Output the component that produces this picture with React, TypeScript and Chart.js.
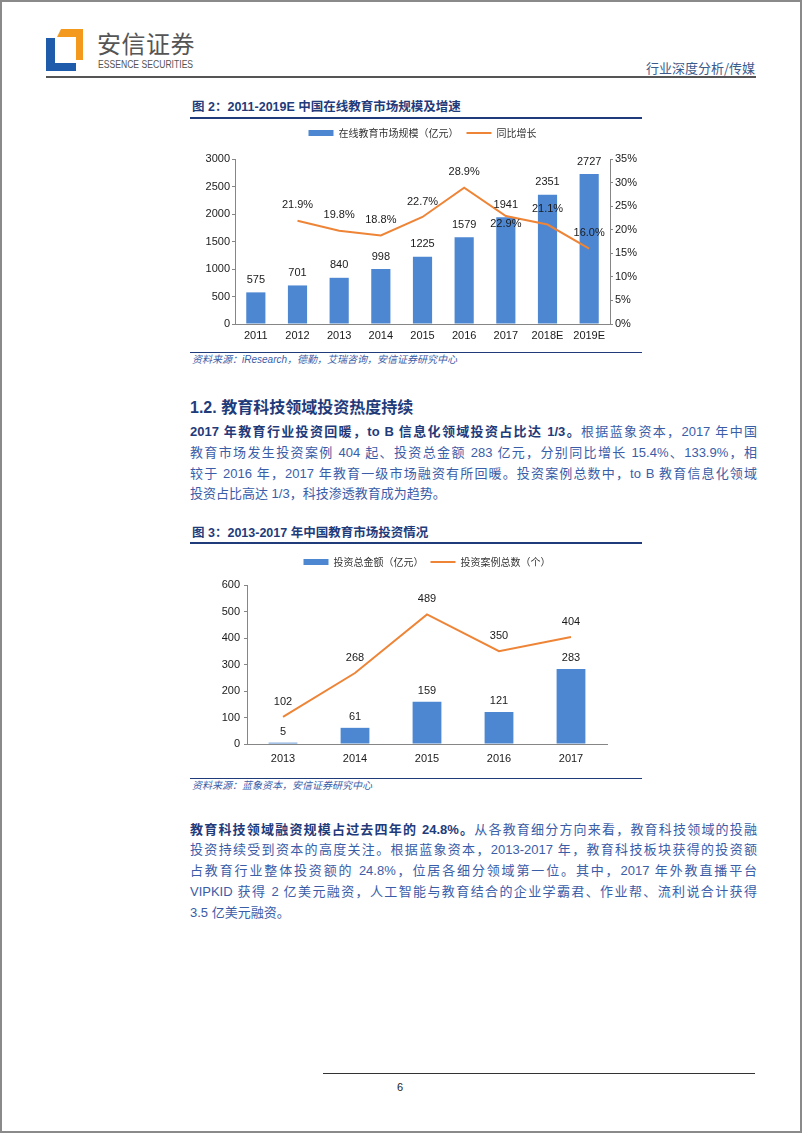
import React, { useEffect, useRef } from "react";
import { Chart, registerables } from "chart.js";

Chart.register(...registerables);

// ---------- Data: Figure 2 ----------
const years1 = ["2011", "2012", "2013", "2014", "2015", "2016", "2017", "2018E", "2019E"];
const marketSize = [575, 701, 840, 998, 1225, 1579, 1941, 2351, 2727];
const growthPct = [null, 21.9, 19.8, 18.8, 22.7, 28.9, 22.9, 21.1, 16.0];
const growthLabelBelow = [false, false, false, false, false, false, true, false, false];
const series1Names = ["在线教育市场规模（亿元）", "同比增长"];

// ---------- Data: Figure 3 ----------
const years2 = ["2013", "2014", "2015", "2016", "2017"];
const investAmount = [5, 61, 159, 121, 283];
const investCases = [102, 268, 489, 350, 404];
const series2Names = ["投资总金额（亿元）", "投资案例总数（个）"];

const BLUE = "#4D87D1";
const ORANGE = "#EE8436";
const AXIS = "#868686";
const NAVY = "#1F3B7A";
const TEXTBLUE = "#3A5DA8";
const FONT_NUM = '"Liberation Sans", Arial, sans-serif';
const FONT_CJK = '"Noto Sans CJK SC", sans-serif';
const FONT_BODY = '"Liberation Sans", "Noto Sans CJK SC", sans-serif';

const valueLabels = {
  id: "valueLabels",
  afterDatasetsDraw(chart: any) {
    const ctx = chart.ctx;
    chart.data.datasets.forEach((ds: any, di: number) => {
      const meta = chart.getDatasetMeta(di);
      meta.data.forEach((el: any, i: number) => {
        const v = ds.data[i];
        if (v == null) return;
        const text = ds.labelFormat ? ds.labelFormat(v) : String(v);
        const below = ds.labelBelow && ds.labelBelow[i];
        const dy = below ? ds.labelBelowOffset : -ds.labelOffset;
        ctx.save();
        ctx.font = `11px ${FONT_NUM}`;
        ctx.fillStyle = "#1a1a1a";
        ctx.textAlign = "center";
        ctx.textBaseline = "middle";
        ctx.fillText(text, el.x, el.y + dy);
        ctx.restore();
      });
    });
  },
};

const legendGap = (extra: number) => ({
  id: "legendGap",
  beforeInit(chart: any) {
    const lg = chart.legend;
    if (!lg) return;
    const orig = lg.fit;
    lg.fit = function () {
      orig.call(this);
      this.height += extra;
    };
  },
});

function legendOpts(pad: number) {
  return {
    display: true,
    position: "top" as const,
    fullSize: false,
    labels: {
      usePointStyle: true,
      pointStyleWidth: 25,
      boxWidth: 25,
      boxHeight: 6,
      padding: pad,
      color: "#333",
      font: { family: FONT_CJK, size: 10 },
      sort: (a: any, b: any) => a.datasetIndex - b.datasetIndex,
    },
  };
}

const plainTick = (v: any) => String(v);

function Chart1() {
  const ref = useRef<HTMLCanvasElement>(null);
  useEffect(() => {
    const chart = new Chart(ref.current as HTMLCanvasElement, {
      type: "bar",
      data: {
        labels: years1,
        datasets: [
          {
            type: "bar",
            label: series1Names[0],
            data: marketSize,
            backgroundColor: BLUE,
            yAxisID: "y",
            order: 1,
            categoryPercentage: 1,
            barPercentage: 0.46,
            pointStyle: "rect",
            labelOffset: 12.5,
          } as any,
          {
            type: "line",
            label: series1Names[1],
            data: growthPct,
            borderColor: ORANGE,
            backgroundColor: ORANGE,
            borderWidth: 2,
            pointBorderWidth: 2,
            pointRadius: 0,
            pointHoverRadius: 0,
            yAxisID: "y1",
            order: 0,
            pointStyle: "line",
            labelOffset: 15.5,
            labelBelow: growthLabelBelow,
            labelBelowOffset: 8,
            labelFormat: (v: number) => v.toFixed(1) + "%",
          } as any,
        ],
      },
      options: {
        responsive: false,
        animation: false,
        layout: { padding: 0 },
        plugins: {
          legend: legendOpts(8),
          tooltip: { enabled: false },
        },
        scales: {
          x: {
            grid: { display: false, drawTicks: false },
            border: { color: AXIS },
            ticks: { font: { family: FONT_NUM, size: 11 }, color: "#1a1a1a", padding: 5, maxRotation: 0, autoSkip: false },
            afterFit(s: any) { s.height = 24; },
          },
          y: {
            position: "left",
            min: 0,
            max: 3000,
            ticks: { stepSize: 500, font: { family: FONT_NUM, size: 11 }, color: "#1a1a1a", padding: 2, callback: plainTick },
            grid: { drawOnChartArea: false, tickLength: 3, color: AXIS },
            border: { color: AXIS },
            afterFit(s: any) { s.width = 55; },
          },
          y1: {
            position: "right",
            min: 0,
            max: 35,
            ticks: { stepSize: 5, font: { family: FONT_NUM, size: 11 }, color: "#1a1a1a", padding: 2, callback: (v: any) => v + "%" },
            grid: { drawOnChartArea: false, tickLength: 3, color: AXIS },
            border: { color: AXIS },
            afterFit(s: any) { s.width = 40; },
          },
        },
      } as any,
      plugins: [valueLabels, legendGap(11)],
    });
    return () => chart.destroy();
  }, []);
  return (
    <canvas ref={ref} width={470} height={228} style={{ position: "absolute", left: 180, top: 120, width: 470, height: 228 }} />
  );
}

function Chart2() {
  const ref = useRef<HTMLCanvasElement>(null);
  useEffect(() => {
    const chart = new Chart(ref.current as HTMLCanvasElement, {
      type: "bar",
      data: {
        labels: years2,
        datasets: [
          {
            type: "bar",
            label: series2Names[0],
            data: investAmount,
            backgroundColor: BLUE,
            order: 1,
            categoryPercentage: 1,
            barPercentage: 0.4,
            pointStyle: "rect",
            labelOffset: 11,
          } as any,
          {
            type: "line",
            label: series2Names[1],
            data: investCases,
            borderColor: ORANGE,
            backgroundColor: ORANGE,
            borderWidth: 2,
            pointBorderWidth: 2,
            pointRadius: 0,
            pointHoverRadius: 0,
            order: 0,
            pointStyle: "line",
            labelOffset: 15,
          } as any,
        ],
      },
      options: {
        responsive: false,
        animation: false,
        layout: { padding: { right: 3 } },
        plugins: {
          legend: legendOpts(7),
          tooltip: { enabled: false },
        },
        scales: {
          x: {
            grid: { display: false, drawTicks: false },
            border: { color: AXIS },
            ticks: { font: { family: FONT_NUM, size: 11 }, color: "#1a1a1a", padding: 8, maxRotation: 0, autoSkip: false },
            afterFit(s: any) { s.height = 26; },
          },
          y: {
            position: "left",
            min: 0,
            max: 600,
            ticks: { stepSize: 100, font: { family: FONT_NUM, size: 11 }, color: "#1a1a1a", padding: 4, callback: plainTick },
            grid: { drawOnChartArea: false, tickLength: 3, color: AXIS },
            border: { color: AXIS },
            afterFit(s: any) { s.width = 67; },
          },
        },
      } as any,
      plugins: [valueLabels, legendGap(8)],
    });
    return () => chart.destroy();
  }, []);
  return (
    <canvas ref={ref} width={430} height={220} style={{ position: "absolute", left: 180, top: 550, width: 430, height: 220 }} />
  );
}

const abs = (s: React.CSSProperties): React.CSSProperties => ({ position: "absolute", ...s });

function Line({ children, last }: { children: React.ReactNode; last?: boolean }) {
  return (
    <div
      style={{
        width: 567,
        height: 20.8,
        lineHeight: "20.8px",
        textAlign: last ? "left" : "justify",
        textAlignLast: last ? "left" : "justify",
        overflow: "visible",
      } as React.CSSProperties}
    >
      {children}
    </div>
  );
}

const B = ({ children }: { children: React.ReactNode }) => (
  <span style={{ fontWeight: 700, color: NAVY }}>{children}</span>
);

export default function App() {
  return (
    <div
      style={abs({
        left: 0,
        top: 0,
        width: 802,
        height: 1133,
        background: "#fff",
        fontFamily: FONT_BODY,
        overflow: "hidden",
      })}
    >
      {/* page frame */}
      <div style={abs({ left: 0, top: 0, width: 802, height: 1133, boxSizing: "border-box", border: "2px solid #8a8a8a", pointerEvents: "none" })} />

      {/* header logo */}
      <svg style={abs({ left: 44, top: 28 })} width={42} height={46}>
        <path d="M2 10 H11 V35 H32 V43 H2 Z" fill="#1E5BAA" />
        <path d="M17 1 H39 V32 H32 V9 H13 Z" fill="#F39A1E" />
      </svg>
      <div style={abs({ left: 97, top: 30, fontSize: 24, lineHeight: "26px", color: "#555", fontFamily: FONT_CJK, letterSpacing: 0.5 })}>安信证券</div>
      <div style={abs({ left: 98, top: 59, fontSize: 10, lineHeight: "11px", color: "#555", fontFamily: FONT_NUM, transform: "scaleX(0.86)", transformOrigin: "left top", whiteSpace: "nowrap" })}>ESSENCE SECURITIES</div>
      <div style={abs({ left: 560, top: 60, width: 195, textAlign: "right", fontSize: 13, lineHeight: "15px", color: "#3C5A8C", fontFamily: FONT_CJK })}>行业深度分析/传媒</div>
      <div style={abs({ left: 46, top: 76, width: 710, height: 2, background: "#555" })} />

      {/* Figure 2 */}
      <div style={abs({ left: 192, top: 100, fontSize: 12.5, lineHeight: "15px", fontWeight: 700, color: NAVY })}>图 2：2011-2019E 中国在线教育市场规模及增速</div>
      <div style={abs({ left: 190, top: 117, width: 452, height: 1.5, background: NAVY })} />
      <Chart1 />
      <div style={abs({ left: 190, top: 352, width: 452, height: 1, background: NAVY })} />
      <div style={abs({ left: 192, top: 354, fontSize: 10, lineHeight: "12px", fontStyle: "italic", color: TEXTBLUE })}>资料来源：iResearch，德勤，艾瑞咨询，安信证券研究中心</div>

      {/* Section 1.2 */}
      <div style={abs({ left: 190, top: 398, fontSize: 16, lineHeight: "20px", fontWeight: 700, color: NAVY })}>1.2. 教育科技领域投资热度持续</div>
      <div style={abs({ left: 190, top: 422, fontSize: 13, color: TEXTBLUE })}>
        <Line><B>2017 年教育行业投资回暖，to B 信息化领域投资占比达 1/3。</B>根据蓝象资本，2017 年中国</Line>
        <Line>教育市场发生投资案例 404 起、投资总金额 283 亿元，分别同比增长 15.4%、133.9%，相</Line>
        <Line>较于 2016 年，2017 年教育一级市场融资有所回暖。投资案例总数中，to B 教育信息化领域</Line>
        <Line last>投资占比高达 1/3，科技渗透教育成为趋势。</Line>
      </div>

      {/* Figure 3 */}
      <div style={abs({ left: 192, top: 526, fontSize: 12.5, lineHeight: "15px", fontWeight: 700, color: NAVY })}>图 3：2013-2017 年中国教育市场投资情况</div>
      <div style={abs({ left: 190, top: 542, width: 452, height: 1.5, background: NAVY })} />
      <Chart2 />
      <div style={abs({ left: 190, top: 778, width: 452, height: 1, background: NAVY })} />
      <div style={abs({ left: 192, top: 780, fontSize: 10, lineHeight: "12px", fontStyle: "italic", color: TEXTBLUE })}>资料来源：蓝象资本，安信证券研究中心</div>

      {/* paragraph 2 */}
      <div style={abs({ left: 190, top: 819.6, fontSize: 13, color: TEXTBLUE })}>
        <Line><B>教育科技领域融资规模占过去四年的 24.8%。</B>从各教育细分方向来看，教育科技领域的投融</Line>
        <Line>投资持续受到资本的高度关注。根据蓝象资本，2013-2017 年，教育科技板块获得的投资额</Line>
        <Line>占教育行业整体投资额的 24.8%，位居各细分领域第一位。其中，2017 年外教直播平台</Line>
        <Line>VIPKID 获得 2 亿美元融资，人工智能与教育结合的企业学霸君、作业帮、流利说合计获得</Line>
        <Line last>3.5 亿美元融资。</Line>
      </div>

      {/* footer */}
      <div style={abs({ left: 323, top: 1073, width: 432, height: 1, background: "#333" })} />
      <div style={abs({ left: 397, top: 1081, fontSize: 11, lineHeight: "13px", color: "#222", fontFamily: FONT_NUM })}>6</div>
    </div>
  );
}
